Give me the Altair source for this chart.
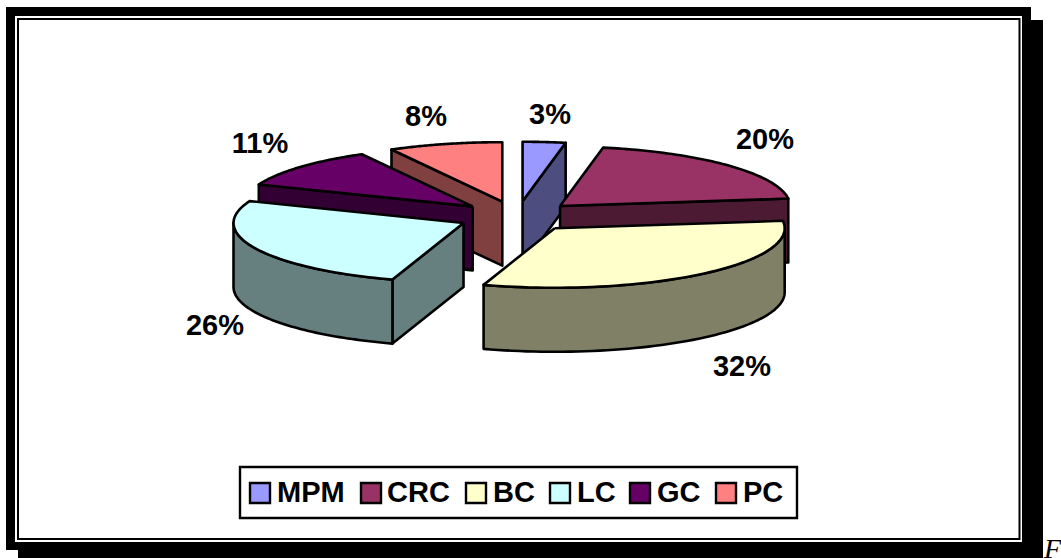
import numpy as np
import pandas as pd
import altair as alt

# Cancer-type shares of the exploded 3D pie
CATEGORIES = ["MPM", "CRC", "BC", "LC", "GC", "PC"]
SHARES = [3, 20, 32, 26, 11, 8]
TOP_COLORS = ["#9999FF", "#993366", "#FFFFCC", "#CCFFFF", "#660066", "#FF8080"]
SIDE_COLORS = ["#4D4D80", "#4D1A33", "#808066", "#668080", "#330033", "#804040"]

W, H = 1061, 558

# Oblique projection of the pie
CX, CY = 517.0, 216.5
RX, RY = 230.0, 59.5
EXPLODE = 0.257
DEPTH = 64.0

# Percent label centres
LABEL_POS = {
    "MPM": (550, 115), "CRC": (765, 140), "BC": (742, 367),
    "LC": (215, 326), "GC": (260, 144), "PC": (426, 117),
}

# Legend row: swatch left edge and text left edge per entry
LEGEND_POS = {
    "MPM": (250, 277), "CRC": (361, 387), "BC": (466, 493),
    "LC": (550, 577), "GC": (630, 657), "PC": (716, 743),
}

X = alt.X("x:Q", scale=alt.Scale(domain=[0, W]), axis=None)
Y = alt.Y("y:Q", scale=alt.Scale(domain=[H, 0]), axis=None)
X2 = alt.X2("x2:Q")
Y2 = alt.Y2("y2:Q")


def rect(x0, y0, x1, y1, fill, stroke=None, sw=0):
    kw = {"fill": fill}
    if stroke:
        kw.update(stroke=stroke, strokeWidth=sw)
    df = pd.DataFrame({"x": [x0], "x2": [x1], "y": [y0], "y2": [y1]})
    return alt.Chart(df).mark_rect(**kw).encode(x=X, x2=X2, y=Y, y2=Y2)


def polygon(px, py, fill):
    px = list(px) + [px[0]]
    py = list(py) + [py[0]]
    df = pd.DataFrame({"x": px, "y": py, "i": range(len(px))})
    return (
        alt.Chart(df)
        .mark_line(fill=fill, stroke="black", strokeWidth=2.6, strokeJoin="round", clip=False)
        .encode(x=X, y=Y, order="i:Q")
    )


def rim(theta):
    return RX * np.sin(theta), -RY * np.cos(theta)


def slice_faces(start, end, top, side):
    """Visible faces of one exploded wedge, back to front; angles run clockwise from 12 o'clock."""
    mid = (start + end) / 2
    ax = CX + EXPLODE * RX * np.sin(mid)
    ay = CY - EXPLODE * RY * np.cos(mid)
    faces = []

    def radial(theta):
        dx, dy = rim(theta)
        return polygon(
            [ax, ax + dx, ax + dx, ax],
            [ay, ay + dy, ay + dy + DEPTH, ay + DEPTH],
            side,
        )

    # Radial cut faces turned towards the viewer
    if np.pi < start < 2 * np.pi:
        faces.append(radial(start))
    if 0 < end < np.pi:
        faces.append(radial(end))

    # Curved outer wall on the front half
    lo, hi = max(start, np.pi / 2), min(end, 3 * np.pi / 2)
    if lo < hi:
        ts = np.linspace(lo, hi, 60)
        dx, dy = rim(ts)
        faces.append(
            polygon(
                list(ax + dx) + list(ax + dx[::-1]),
                list(ay + dy) + list(ay + dy[::-1] + DEPTH),
                side,
            )
        )

    # Top of the wedge
    ts = np.linspace(start, end, 60)
    dx, dy = rim(ts)
    faces.append(polygon([ax] + list(ax + dx), [ay] + list(ay + dy), top))
    return faces


# Frame: black band with drop shadow, white gap, thin inner rule
layers = [
    rect(6, 7, 1031, 60, "black"),
    rect(6, 7, 15, 550, "black"),
    rect(15, 500, 18, 550, "black"),
    rect(1000, 20, 1043, 558, "black"),
    rect(18, 500, 1043, 558, "black"),
    rect(15, 16, 1022, 542, "white"),
    rect(18, 19, 1019.5, 539, "white", "black", 2),
]

# Wedges in painter's order
edges = np.cumsum([0] + SHARES) / sum(SHARES) * 2 * np.pi
slices = {
    c: slice_faces(edges[i], edges[i + 1], TOP_COLORS[i], SIDE_COLORS[i])
    for i, c in enumerate(CATEGORIES)
}
for c in ["MPM", "CRC", "PC", "GC", "LC", "BC"]:
    layers.extend(slices[c])

# Percent labels
label_df = pd.DataFrame(
    {
        "x": [LABEL_POS[c][0] for c in CATEGORIES],
        "y": [LABEL_POS[c][1] for c in CATEGORIES],
        "t": [f"{s}%" for s in SHARES],
    }
)
layers.append(
    alt.Chart(label_df)
    .mark_text(font="Liberation Sans", fontWeight="bold", fontSize=29, color="black",
               align="center", baseline="middle")
    .encode(x=X, y=Y, text="t:N")
)

# Legend box with swatches and names
layers.append(rect(240, 467, 797, 518, "white", "black", 2.4))
for i, c in enumerate(CATEGORIES):
    sx = LEGEND_POS[c][0]
    layers.append(rect(sx, 483, sx + 20, 503, TOP_COLORS[i], "black", 2.4))
legend_df = pd.DataFrame(
    {
        "x": [LEGEND_POS[c][1] for c in CATEGORIES],
        "y": [493] * len(CATEGORIES),
        "t": CATEGORIES,
    }
)
layers.append(
    alt.Chart(legend_df)
    .mark_text(font="Liberation Sans", fontWeight="bold", fontSize=29, color="black",
               align="left", baseline="middle")
    .encode(x=X, y=Y, text="t:N")
)

# Start of the running text beside the figure
caption_df = pd.DataFrame({"x": [1044], "y": [558], "t": ["F"]})
layers.append(
    alt.Chart(caption_df)
    .mark_text(font="Liberation Serif", fontStyle="italic", fontSize=28, color="black",
               align="left", baseline="alphabetic")
    .encode(x=X, y=Y, text="t:N")
)

chart = (
    alt.layer(*layers)
    .properties(width=W, height=H, padding=0, autosize=alt.AutoSizeParams(type="none"))
    .configure_view(stroke=None)
)
chart.save("out.html", embed_options={"renderer": "svg", "actions": False})
